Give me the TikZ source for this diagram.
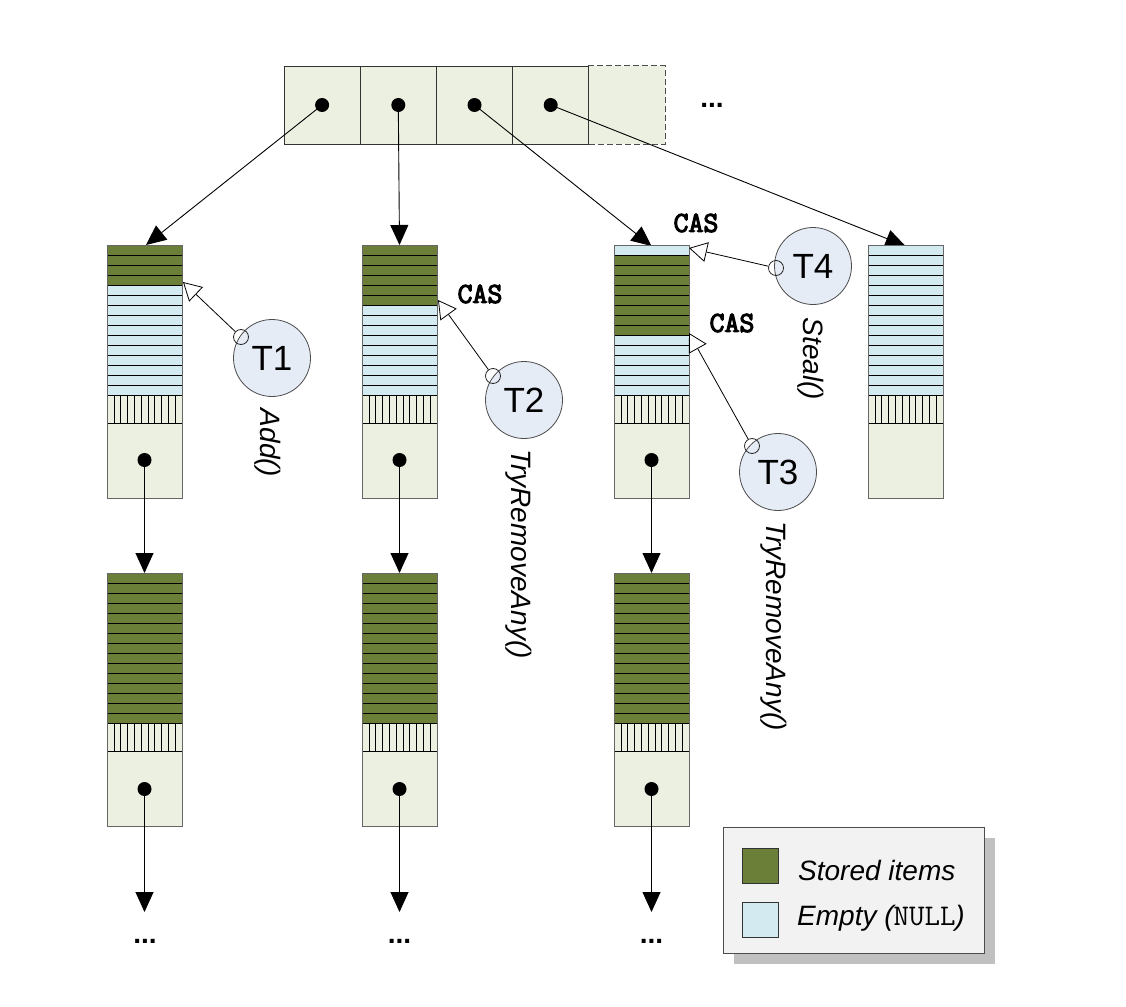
\documentclass[tikz,border=0pt]{standalone}
\usepackage{fontspec}
\setmainfont{Liberation Sans}
\newfontfamily\casfont{Latin Modern Mono}[FakeBold=4]
\usetikzlibrary{arrows.meta}
\definecolor{cs}{RGB}{107,127,56}
\definecolor{ce}{RGB}{211,234,240}
\definecolor{cream}{RGB}{236,240,224}
\definecolor{thr}{RGB}{230,236,246}
\definecolor{legfill}{RGB}{242,242,242}
\definecolor{shad}{RGB}{192,192,192}
\tikzset{
  cell/.style={draw=black!80, line width=0.9pt, fill=cream, minimum width=76.2pt, minimum height=78pt, inner sep=0pt},
  ptr/.style={-{Triangle[length=20pt,width=18pt]}, line width=0.9pt},
  dot/.style={circle, fill=black, inner sep=0pt, minimum size=14pt},
  thread/.style={circle, draw=black!70, line width=0.8pt, fill=thr, minimum size=77pt, inner sep=0pt, font=\fontsize{35}{40}\selectfont},
  hook/.style={circle, draw=black!85, minimum size=15pt, inner sep=0pt, line width=0.8pt},
  op/.style={-{Triangle[open,length=18pt,width=20pt,fill=white]}, line width=0.8pt},
  cas/.style={font=\fontsize{29}{30}\selectfont\casfont, inner sep=0pt},
  method/.style={rotate=-90, font=\fontsize{28}{32}\selectfont\itshape, inner sep=0pt},
  dots/.style={font=\fontsize{28}{30}\selectfont\bfseries, inner sep=0pt},
  legtext/.style={font=\fontsize{28}{32}\selectfont\itshape, inner sep=0pt, anchor=west},
}
% #1 x left, #2 y top, #3 row colours
\newcommand\myblk[3]{%
  \foreach \c [count=\i from 0] in {#3} {\fill[\c] (#1,#2+\i*10) rectangle ++(75,10);}
  \foreach \i in {1,...,14} {\draw[line width=0.7pt] (#1,#2+\i*10) -- ++(75,0);}
  \fill[cream] (#1,#2+150) rectangle ++(75,103);
  \foreach \i in {1,...,10} {\draw[line width=0.6pt] (#1+\i*6.818,#2+150) -- ++(0,28);}
  \draw[line width=0.7pt] (#1,#2+150) -- ++(75,0) (#1,#2+178) -- ++(75,0);
  \draw[draw=black!60,line width=1pt] (#1,#2) rectangle ++(75,253);
}
\begin{document}
\begin{tikzpicture}[x=1pt,y=-1pt]
\useasboundingbox (0,0) rectangle (1126,1006);
% top array
\node[cell, draw=black!70, line width=1pt, dash pattern=on 6pt off 3pt] (a5) at (626.9,105) {};
\node[cell] (a1) at (322.1,105) {};
\node[cell] (a2) at (398.3,105) {};
\node[cell] (a3) at (474.5,105) {};
\node[cell] (a4) at (550.7,105) {};
\foreach \k in {1,...,4} {\node[dot] (d\k) at (a\k.center) {};}
\node[dots] (topdots) at (712,105) {...};
% block top coordinates
\coordinate (c1top) at (146,245);
\coordinate (c2top) at (399.5,245);
\coordinate (c3top) at (651.5,246);
\coordinate (c4top) at (905.5,246);
\draw[ptr] (d1.center) -- (c1top);
\draw[ptr] (d2.center) -- (c2top);
\draw[ptr] (d3.center) -- (c3top);
\draw[ptr] (d4.center) -- (c4top);
% upper blocks
\myblk{107}{245}{cs,cs,cs,cs,ce,ce,ce,ce,ce,ce,ce,ce,ce,ce,ce}
\myblk{362}{245}{cs,cs,cs,cs,cs,cs,ce,ce,ce,ce,ce,ce,ce,ce,ce}
\myblk{614}{245}{ce,cs,cs,cs,cs,cs,cs,cs,cs,ce,ce,ce,ce,ce,ce}
\myblk{868}{245}{ce,ce,ce,ce,ce,ce,ce,ce,ce,ce,ce,ce,ce,ce,ce}
\node[dot] (b1dot) at (144.5,460) {};
\node[dot] (b2dot) at (399.5,460) {};
\node[dot] (b3dot) at (651.5,460) {};
% lower blocks
\coordinate (l1top) at (144.5,573);
\coordinate (l2top) at (399.5,573);
\coordinate (l3top) at (651.5,573);
\draw[ptr] (b1dot.center) -- (l1top);
\draw[ptr] (b2dot.center) -- (l2top);
\draw[ptr] (b3dot.center) -- (l3top);
\myblk{107}{573}{cs,cs,cs,cs,cs,cs,cs,cs,cs,cs,cs,cs,cs,cs,cs}
\myblk{362}{573}{cs,cs,cs,cs,cs,cs,cs,cs,cs,cs,cs,cs,cs,cs,cs}
\myblk{614}{573}{cs,cs,cs,cs,cs,cs,cs,cs,cs,cs,cs,cs,cs,cs,cs}
\node[dot] (l1dot) at (144.5,789) {};
\node[dot] (l2dot) at (399.5,789) {};
\node[dot] (l3dot) at (651.5,789) {};
\coordinate (e1) at (144.5,912);
\coordinate (e2) at (399.5,912);
\coordinate (e3) at (651.5,912);
\draw[ptr] (l1dot.center) -- (e1);
\draw[ptr] (l2dot.center) -- (e2);
\draw[ptr] (l3dot.center) -- (e3);
\node[dots] (bd1) at (145,941) {...};
\node[dots] (bd2) at (399.5,941) {...};
\node[dots] (bd3) at (651.5,941) {...};
% threads
\node[thread] (t1) at (272,358) {T1};
\node[thread] (t2) at (524,400) {T2};
\node[thread] (t3) at (778,472) {T3};
\node[thread] (t4) at (813,266) {T4};
\node[hook] (h1) at (241,337) {};
\node[hook] (h2) at (493,376) {};
\node[hook] (h3) at (752,446) {};
\node[hook] (h4) at (776,268) {};
\coordinate (p1) at (183,282);
\coordinate (p2) at (438,300);
\coordinate (p3) at (689,333);
\coordinate (p4) at (689,248);
\draw[op] (h1) -- (p1);
\draw[op] (h2) -- (p2);
\draw[op] (h3) -- (p3);
\draw[op] (h4) -- (p4);
\node[cas] (cas2) at (480,294) {CAS};
\node[cas] (cas3) at (732,323) {CAS};
\node[cas] (cas4) at (696,223) {CAS};
\node[method] (m1) at (268,443) {Add()};
\node[method] (m2) at (519,554) {TryRemoveAny()};
\node[method] (m3) at (774,626) {TryRemoveAny()};
\node[method] (m4) at (811,359) {Steal()};
% legend
\fill[shad] (734,838) rectangle (995,964);
\draw[fill=legfill, draw=black!70, line width=0.9pt] (723,827) rectangle (984,953);
\draw[fill=cs, draw=black!80, line width=0.8pt] (742,848) rectangle (778,883);
\draw[fill=ce, draw=black!80, line width=0.8pt] (742,902) rectangle (778,937);
\node[legtext] (lg1) at (798,870) {Stored items};
\node[legtext] (lg2) at (797,918) {Empty ({\upshape\ttfamily\fontsize{30}{32}\selectfont NULL})};
\end{tikzpicture}
\end{document}
